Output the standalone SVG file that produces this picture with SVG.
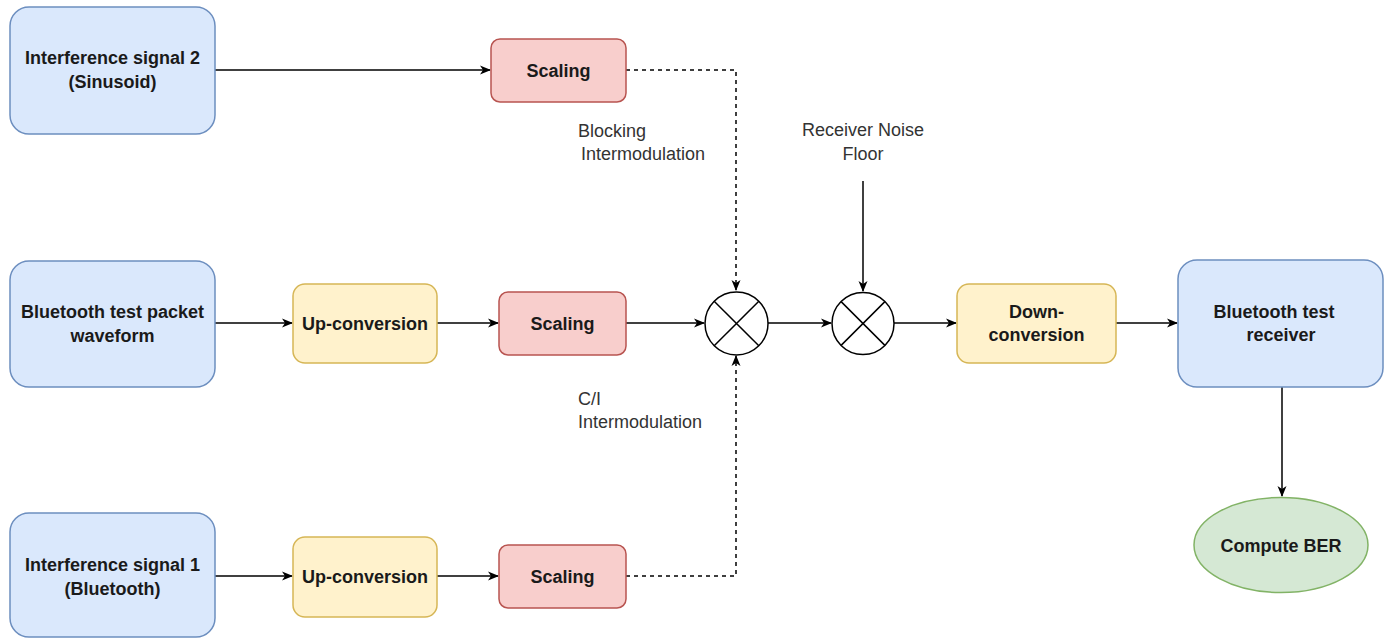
<svg xmlns="http://www.w3.org/2000/svg" width="1384" height="639" viewBox="0 0 1384 639">
<style>
.blue{fill:#dae8fc;stroke:#6c8ebf;stroke-width:1.5}
.red{fill:#f8cecc;stroke:#b85450;stroke-width:1.5}
.yellow{fill:#fff2cc;stroke:#d6b656;stroke-width:1.5}
.green{fill:#d5e8d4;stroke:#82b366;stroke-width:1.5}
.mix{fill:#ffffff;stroke:#000000;stroke-width:1.5}
.t{font-family:"Liberation Sans",Arial,sans-serif;font-size:18px;font-weight:bold;fill:#1a1a1a;text-anchor:middle}
.lbl{font-family:"Liberation Sans",Arial,sans-serif;font-size:18px;fill:#333333}
.e{fill:none;stroke:#000000;stroke-width:1.5}
.d{fill:none;stroke:#000000;stroke-width:1.5;stroke-dasharray:4 4}
</style>
<defs>
<marker id="arr" markerWidth="12" markerHeight="10" refX="10" refY="5" orient="auto" markerUnits="userSpaceOnUse">
<path d="M0,0.5 L11,5 L0,9.5 L3,5 z" fill="#000000"/>
</marker>
</defs>
<rect width="1384" height="639" fill="#ffffff"/>
<g id="connectors">
<path class="e" d="M215,70 H490" marker-end="url(#arr)"/>
<path class="d" d="M626,70 H736 V290" marker-end="url(#arr)"/>
<path class="d" d="M626,576 H736 V356" marker-end="url(#arr)"/>
<path class="e" d="M215,323 H292" marker-end="url(#arr)"/>
<path class="e" d="M437,323 H498" marker-end="url(#arr)"/>
<path class="e" d="M626,323 H704" marker-end="url(#arr)"/>
<path class="e" d="M768,323 H831" marker-end="url(#arr)"/>
<path class="e" d="M863,181 V291" marker-end="url(#arr)"/>
<path class="e" d="M894,323 H956" marker-end="url(#arr)"/>
<path class="e" d="M1116,323 H1177" marker-end="url(#arr)"/>
<path class="e" d="M1282,387 V496" marker-end="url(#arr)"/>
<path class="e" d="M215,576 H292" marker-end="url(#arr)"/>
<path class="e" d="M437,576 H498" marker-end="url(#arr)"/>
</g>
<g id="interference2">
<rect class="blue" x="10" y="7" width="205" height="127" rx="19"/>
<text class="t" x="112.5" y="64">Interference signal 2</text>
<text class="t" x="112.5" y="88">(Sinusoid)</text>
</g>
<g id="scaling-top">
<rect class="red" x="491" y="39" width="135" height="63" rx="9"/>
<text class="t" x="558.5" y="77">Scaling</text>
</g>
<g id="bt-packet">
<rect class="blue" x="10" y="261" width="205" height="126" rx="19"/>
<text class="t" x="112.5" y="318">Bluetooth test packet</text>
<text class="t" x="112.5" y="342">waveform</text>
</g>
<g id="upconv-mid">
<rect class="yellow" x="293" y="284" width="144" height="79" rx="12"/>
<text class="t" x="365" y="330">Up-conversion</text>
</g>
<g id="scaling-mid">
<rect class="red" x="499" y="292" width="127" height="63" rx="9"/>
<text class="t" x="562.5" y="330">Scaling</text>
</g>
<g id="interference1">
<rect class="blue" x="10" y="513" width="205" height="124" rx="19"/>
<text class="t" x="112.5" y="571">Interference signal 1</text>
<text class="t" x="112.5" y="595">(Bluetooth)</text>
</g>
<g id="upconv-bot">
<rect class="yellow" x="293" y="537" width="144" height="80" rx="12"/>
<text class="t" x="365" y="583">Up-conversion</text>
</g>
<g id="scaling-bot">
<rect class="red" x="499" y="545" width="127" height="63" rx="9"/>
<text class="t" x="562.5" y="583">Scaling</text>
</g>
<g id="mixer1">
<circle class="mix" cx="736.5" cy="323.5" r="31.5"/>
<path class="e" d="M714.2,301.2 L758.8,345.8 M758.8,301.2 L714.2,345.8"/>
</g>
<g id="mixer2">
<circle class="mix" cx="863" cy="323.5" r="31"/>
<path class="e" d="M841.1,301.6 L884.9,345.4 M884.9,301.6 L841.1,345.4"/>
</g>
<g id="downconv">
<rect class="yellow" x="957" y="284" width="159" height="79" rx="12"/>
<text class="t" x="1036.5" y="318">Down-</text>
<text class="t" x="1036.5" y="341">conversion</text>
</g>
<g id="bt-receiver">
<rect class="blue" x="1178" y="260" width="205" height="127" rx="19"/>
<text class="t" x="1274" y="318">Bluetooth test</text>
<text class="t" x="1281" y="341">receiver</text>
</g>
<g id="compute-ber">
<ellipse class="green" cx="1281" cy="545" rx="87" ry="47.5"/>
<text class="t" x="1281" y="552">Compute BER</text>
</g>
<g id="labels">
<text class="lbl" x="578" y="137">Blocking</text>
<text class="lbl" x="581" y="160">Intermodulation</text>
<text class="lbl" x="863" y="136" text-anchor="middle">Receiver Noise</text>
<text class="lbl" x="863" y="160" text-anchor="middle">Floor</text>
<text class="lbl" x="578" y="405">C/I</text>
<text class="lbl" x="578" y="428">Intermodulation</text>
</g>
</svg>
